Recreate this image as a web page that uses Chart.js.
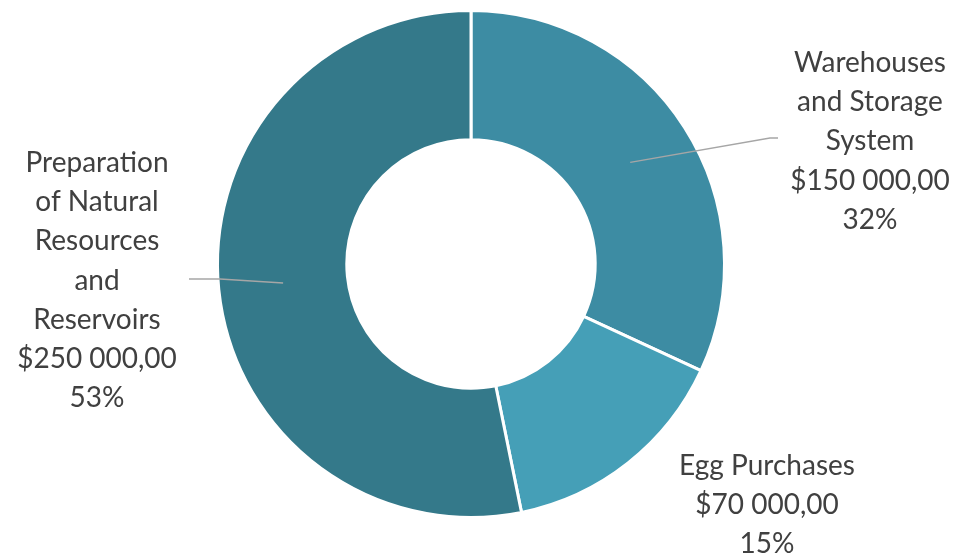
<!DOCTYPE html>
<html>
<head>
<meta charset="utf-8">
<script src="https://cdn.jsdelivr.net/npm/chart.js@4"></script>
<style>
  html, body { margin: 0; padding: 0; background: #ffffff; }
  #wrap { width: 957px; height: 555px; position: relative; }
</style>
</head>
<body>
<div id="wrap"><canvas id="donut"></canvas></div>
<script>
// data
const categories = ['Warehouses and Storage System', 'Egg Purchases', 'Preparation of Natural Resources and Reservoirs'];
const amounts = [150000, 70000, 250000];
const sliceColors = ['#3D8CA3', '#459FB7', '#34798A'];

// label text lines (wrapped like the original)
const labelLines = [
  ['Warehouses', 'and Storage', 'System'],
  ['Egg Purchases'],
  ['Preparation', 'of Natural', 'Resources', 'and', 'Reservoirs']
];

// where each label block sits and the elbow of its leader line
const labelPlacement = [
  { x: 870, y: 63, leader: [[770, 138], [778, 138]] },
  { x: 767, y: 466, leader: null },
  { x: 97, y: 163, leader: [[220, 279], [189, 279]] }
];

function money(v) {
  // 150000 -> $150 000,00
  const s = String(v).replace(/\B(?=(\d{3})+(?!\d))/g, ' ');
  return '$' + s + ',00';
}

const total = amounts.reduce((a, b) => a + b, 0);

const outsideLabels = {
  id: 'outsideLabels',
  afterDatasetsDraw(chart) {
    const ctx = chart.ctx;
    const meta = chart.getDatasetMeta(0);
    ctx.save();
    meta.data.forEach((arc, i) => {
      const p = labelPlacement[i];
      if (p.leader) {
        const c = arc.tooltipPosition();
        ctx.beginPath();
        ctx.moveTo(c.x, c.y);
        p.leader.forEach(pt => ctx.lineTo(pt[0], pt[1]));
        ctx.strokeStyle = '#A6A6A6';
        ctx.lineWidth = 1.5;
        ctx.stroke();
      }
      const lines = labelLines[i].concat([money(amounts[i]), Math.round(amounts[i] / total * 100) + '%']);
      ctx.fillStyle = '#404040';
      ctx.font = "28px Lato";
      ctx.textAlign = 'center';
      ctx.textBaseline = 'middle';
      lines.forEach((t, k) => ctx.fillText(t, p.x, p.y + k * 39.2));
    });
    ctx.restore();
  }
};

new Chart(document.getElementById('donut'), {
  type: 'doughnut',
  data: {
    labels: categories,
    datasets: [{
      data: amounts,
      backgroundColor: sliceColors,
      borderColor: '#ffffff',
      borderWidth: 3
    }]
  },
  options: {
    responsive: true,
    maintainAspectRatio: false,
    animation: false,
    cutout: '49%',
    layout: {
      padding: { top: 9, bottom: 36, left: 216, right: 231 }
    },
    plugins: {
      legend: { display: false },
      tooltip: { enabled: false }
    }
  },
  plugins: [outsideLabels]
});
</script>
</body>
</html>
